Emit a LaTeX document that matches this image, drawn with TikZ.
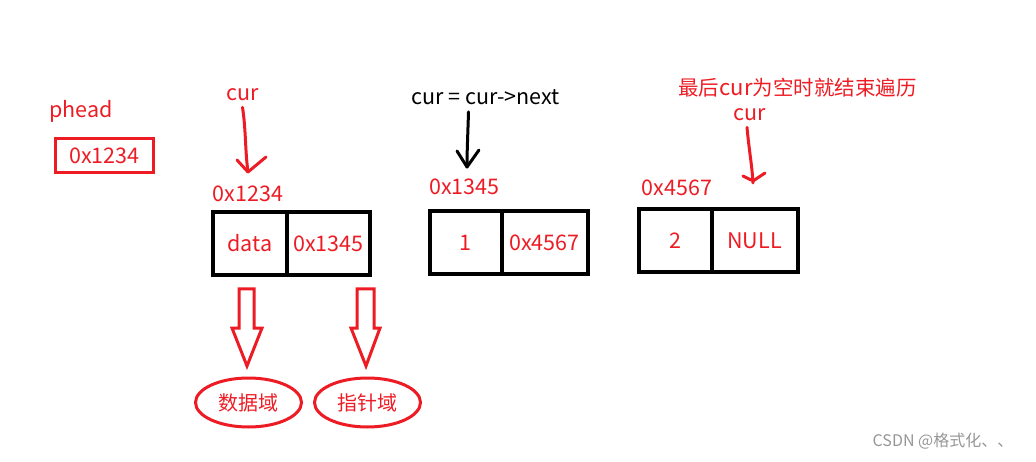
\documentclass[tikz,border=0pt]{standalone}
\usepackage{fontspec}
\setmainfont{Noto Sans CJK SC}
\usetikzlibrary{shapes.geometric}
\definecolor{pred}{RGB}{237,28,36}
\definecolor{wm}{RGB}{150,150,150}
\begin{document}
\begin{tikzpicture}[x=1pt,y=-1pt,
  every node/.style={font=\fontsize{21.5}{23}\selectfont, inner sep=0pt},
  lbl/.style={text=pred},
  cell/.style={draw=black, line width=4pt, text=pred, minimum height=63pt},
  oval/.style={ellipse, draw=pred, line width=3pt, text=pred, minimum width=106pt, minimum height=49pt, font=\fontsize{20}{22}\selectfont},
  hand/.style={line width=3pt, line cap=round, line join=round},
  blockarrow/.style={draw=pred, line width=3pt, line join=miter}
]
\useasboundingbox (0,0) rectangle (1036,462);

% phead
\node[lbl] (phead) at (81,111) {phead};
\node[draw=pred, line width=3pt, text=pred, minimum width=98pt, minimum height=33.5pt] (pbox) at (104.5,155.75) {0x1234};

% node 1
\node[lbl] (cur1) at (242.5,95) {cur};
\node[lbl] (a1) at (248,194) {0x1234};
\node[cell, minimum width=73.5pt] (d1) at (249.75,243.5) {data};
\node[cell, minimum width=83.5pt] (n1) at (328.25,243.5) {0x1345};

% node 2
\node (step) at (485.5,97) {cur = cur->next};
\node[lbl] (a2) at (464.5,187) {0x1345};
\node[cell, minimum width=72pt] (d2) at (465.5,243) {1};
\node[cell, minimum width=86pt] (n2) at (544.5,243) {0x4567};

% node 3
\node[lbl, font=\fontsize{20.5}{23}\selectfont] (title) at (797.5,88) {最后\fontsize{22}{23}\selectfont cur\fontsize{20.5}{23}\selectfont 为空时就结束遍历};
\node[lbl] (cur3) at (750,115) {cur};
\node[lbl] (a3) at (677,188) {0x4567};
\node[cell, minimum width=73pt] (d3) at (675,241) {2};
\node[cell, minimum width=86pt] (n3) at (754.5,241) {NULL};

% hand-drawn arrows
\coordinate (t1) at (248,172);
\coordinate (t2) at (467,167);
\coordinate (t3) at (753,183);
\draw[hand, pred] (cur1.south) ++(0,6) .. controls (246,130) and (245,150) .. (t1);
\draw[hand, pred] (237,160) -- (t1) -- (266,157);
\draw[hand, black] (step.south) ++(-17,7) .. controls (468,130) and (467,150) .. (t2);
\draw[hand, black] (457,151) -- (t2) -- (479,150);
\draw[hand, pred] (cur3.south) ++(-3,6) .. controls (749,150) and (752,165) .. (t3);
\draw[hand, pred] (743,176) -- (751,180);
\draw[hand, pred] (753,181) -- (765,173);

% ovals
\node[oval] (o1) at (248.5,402.5) {数据域};
\node[oval] (o2) at (367.5,402.5) {指针域};

% block arrows
\draw[blockarrow] (239,289) -- (254,289) -- (254,328) -- (262,328) -- (247,366) -- (232,328) -- (239,328) -- cycle;
\draw[blockarrow] (357,289) -- (374,289) -- (374,328) -- (380,328) -- (366,366) -- (351,328) -- (357,328) -- cycle;

% watermark
\node[text=wm, font=\fontsize{16}{18}\selectfont] (wmk) at (943,441) {CSDN @格式化、、};
\end{tikzpicture}
\end{document}
